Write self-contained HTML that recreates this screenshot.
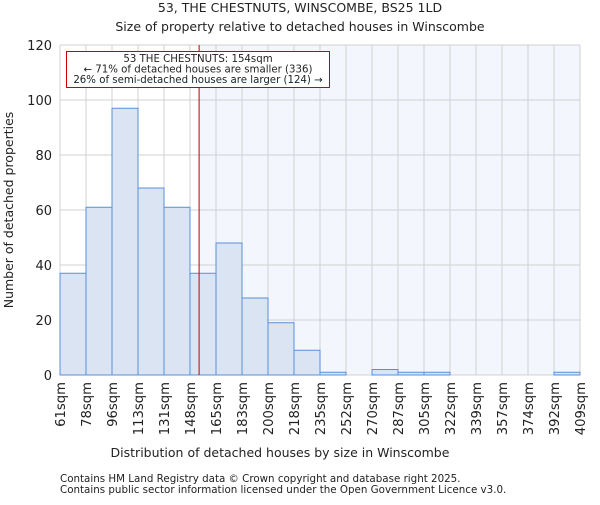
<!DOCTYPE html>
<html><head><meta charset="utf-8"><style>
body{margin:0;background:#fff;font-family:"Liberation Sans","DejaVu Sans",sans-serif}
svg text{font-family:"DejaVu Sans","Liberation Sans",sans-serif;fill:#222}
</style></head><body>
<svg id="c" width="600" height="500">
<text x="300" y="12" font-size="12.5" text-anchor="middle">53, THE CHESTNUTS, WINSCOMBE, BS25 1LD</text>
<text x="300" y="31" font-size="12.5" text-anchor="middle">Size of property relative to detached houses in Winscombe</text>
<g id="plot"></g>
<text x="280" y="457" font-size="12.5" text-anchor="middle">Distribution of detached houses by size in Winscombe</text>
<text transform="translate(13,210) rotate(-90)" font-size="12.5" text-anchor="middle">Number of detached properties</text>
<text x="60" y="482" font-size="10.3">Contains HM Land Registry data © Crown copyright and database right 2025.</text>
<text x="60" y="493" font-size="10.3">Contains public sector information licensed under the Open Government Licence v3.0.</text>
</svg>
<script>
const binLabels=["61sqm","78sqm","96sqm","113sqm","131sqm","148sqm","165sqm","183sqm","200sqm","218sqm","235sqm","252sqm","270sqm","287sqm","305sqm","322sqm","339sqm","357sqm","374sqm","392sqm","409sqm"];
const counts=[37,61,97,68,61,37,48,28,19,9,1,0,2,1,1,0,0,0,0,1];
const yTicks=[0,20,40,60,80,100,120];
const propertyBinPos=5.35;
const X0=60,X1=580,Y0=375,Y1=45,YMAX=120;
const n=counts.length,bw=(X1-X0)/n;
const x=i=>X0+i*bw, y=v=>Y0-(v/YMAX)*(Y0-Y1);
const g=document.getElementById('plot'),NS='http://www.w3.org/2000/svg';
function mk(t,a,p){const e=document.createElementNS(NS,t);for(const k in a)e.setAttribute(k,a[k]);(p||g).appendChild(e);return e;}
const px=x(propertyBinPos);
let e=mk('rect',{x:px,y:Y1,width:X1-px,height:Y0-Y1,fill:'#f4f6fd'});


for(let i=0;i<=n;i++){e=mk('line',{x1:x(i),x2:x(i),y1:Y1,y2:Y0,stroke:'#d0d0d0','stroke-width':1});

}
yTicks.forEach(t=>{e=mk('line',{x1:X0,x2:X1,y1:y(t),y2:y(t),stroke:'#d0d0d0','stroke-width':1});


e=mk('text',{x:X0-8,y:y(t)+5,'font-size':13,'text-anchor':'end'});e.textContent=t;

});
counts.forEach((c,i)=>{if(c<=0)return;e=mk('rect',{x:x(i),y:y(c),width:bw,height:Y0-y(c),fill:'#dae4f3',stroke:'#5a8fd8','stroke-width':1});

});
binLabels.forEach((l,i)=>{e=mk('text',{transform:`translate(${x(i)+5},382) rotate(-90)`,'font-size':13.2,'text-anchor':'end'});e.textContent=l;

});
e=mk('line',{x1:px,x2:px,y1:Y1,y2:Y0,stroke:'#c00000','stroke-width':1});


e=mk('rect',{x:66.5,y:51.5,width:263,height:36,fill:'#fff',stroke:'#cc0000','stroke-width':1});


["53 THE CHESTNUTS: 154sqm","← 71% of detached houses are smaller (336)","26% of semi-detached houses are larger (124) →"].forEach((t,i)=>{
e=mk('text',{x:198,y:62+i*10.5,'font-size':10.2,'text-anchor':'middle'});e.textContent=t;

});
</script>
</body></html>
